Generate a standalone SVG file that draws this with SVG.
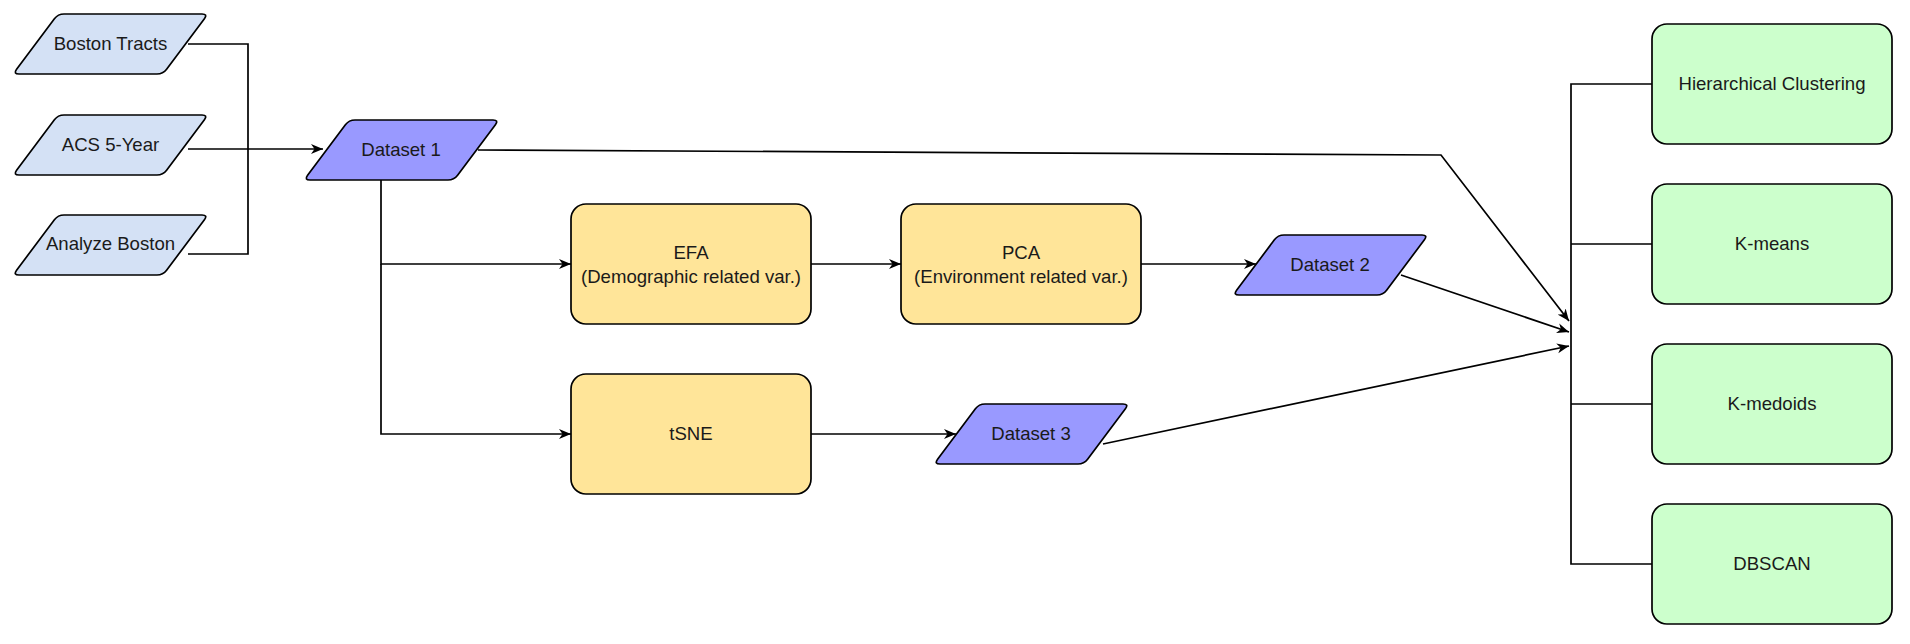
<svg xmlns="http://www.w3.org/2000/svg" width="1910" height="644" viewBox="0 0 1910 644">
<style>
.pg{stroke:#000;stroke-width:1.7}
.in{fill:#D4E1F5}
.ds{fill:#9999FF}
.proc{fill:#FFE599;stroke:#000;stroke-width:1.7}
.cl{fill:#CCFFCC;stroke:#000;stroke-width:1.7}
text{font-family:"Liberation Sans",Arial,sans-serif;font-size:18.6px;fill:#1a1a1a;text-anchor:middle}
.e{fill:none;stroke:#000;stroke-width:1.7}
</style>
<defs>
<path id="para" d="M51,0 L189,0 Q195,0 191.4,4.8 L153.6,55.2 Q150,60 144,60 L6,60 Q0,60 3.6,55.2 L41.4,4.8 Q45,0 51,0 Z"/>
<marker id="arr" markerUnits="userSpaceOnUse" markerWidth="13" markerHeight="11" refX="12" refY="5" orient="auto" viewBox="0 0 13 10">
<path d="M0,0 L12,5 L0,10 L3.5,5 Z" fill="#000"/>
</marker>
</defs>
<g id="connectors">
<path class="e" d="M188,44 H248 V254 H188"/>
<path class="e" d="M188,149 H323" marker-end="url(#arr)"/>
<path class="e" d="M478,150 L1441,155 L1569,321" marker-end="url(#arr)"/>
<path class="e" d="M381,179 V264 H571" marker-end="url(#arr)"/>
<path class="e" d="M381,264 V434 H571" marker-end="url(#arr)"/>
<path class="e" d="M811,264 H901" marker-end="url(#arr)"/>
<path class="e" d="M1141,264 H1256" marker-end="url(#arr)"/>
<path class="e" d="M811,434 H956" marker-end="url(#arr)"/>
<path class="e" d="M1401,275 L1569,332" marker-end="url(#arr)"/>
<path class="e" d="M1103,444 L1569,346" marker-end="url(#arr)"/>
<path class="e" d="M1652,84 H1571 V564 H1652 M1571,244 H1652 M1571,404 H1652"/>
</g>
<g id="boston-tracts"><use href="#para" x="13" y="14" class="pg in"/><text x="110.5" y="50">Boston Tracts</text></g>
<g id="acs-5-year"><use href="#para" x="13" y="115" class="pg in"/><text x="110.5" y="151">ACS 5-Year</text></g>
<g id="analyze-boston"><use href="#para" x="13" y="215" class="pg in"/><text x="110.5" y="250">Analyze Boston</text></g>
<g id="dataset-1"><use href="#para" x="304" y="120" class="pg ds"/><text x="401" y="156">Dataset 1</text></g>
<g id="efa"><rect class="proc" x="571" y="204" width="240" height="120" rx="15"/><text x="691" y="259">EFA</text><text x="691" y="283">(Demographic related var.)</text></g>
<g id="pca"><rect class="proc" x="901" y="204" width="240" height="120" rx="15"/><text x="1021" y="259">PCA</text><text x="1021" y="283">(Environment related var.)</text></g>
<g id="tsne"><rect class="proc" x="571" y="374" width="240" height="120" rx="15"/><text x="691" y="440">tSNE</text></g>
<g id="dataset-2"><use href="#para" x="1233" y="235" class="pg ds"/><text x="1330" y="271">Dataset 2</text></g>
<g id="dataset-3"><use href="#para" x="934" y="404" class="pg ds"/><text x="1031" y="440">Dataset 3</text></g>
<g id="hierarchical"><rect class="cl" x="1652" y="24" width="240" height="120" rx="15"/><text x="1772" y="90">Hierarchical Clustering</text></g>
<g id="kmeans"><rect class="cl" x="1652" y="184" width="240" height="120" rx="15"/><text x="1772" y="250">K-means</text></g>
<g id="kmedoids"><rect class="cl" x="1652" y="344" width="240" height="120" rx="15"/><text x="1772" y="410">K-medoids</text></g>
<g id="dbscan"><rect class="cl" x="1652" y="504" width="240" height="120" rx="15"/><text x="1772" y="570">DBSCAN</text></g>
</svg>
